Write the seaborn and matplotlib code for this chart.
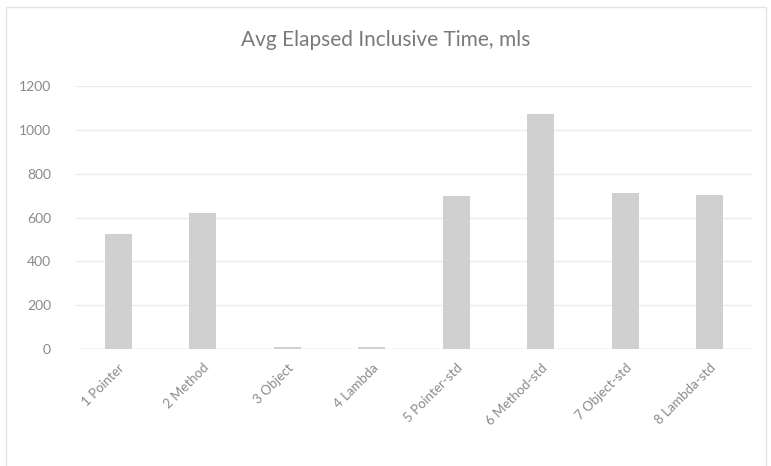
import pandas as pd
import seaborn as sns
import matplotlib.pyplot as plt
from matplotlib.patches import Rectangle

# values
labels = ['1 Pointer', '2 Method', '3 Object', '4 Lambda',
          '5 Pointer-std', '6 Method-std', '7 Object-std', '8 Lambda-std']
avg_time = [526, 622, 7, 7, 696, 1071, 714, 703]
y_ticks = [0, 200, 400, 600, 800, 1000, 1200]

df = pd.DataFrame({'test': labels, 'time': avg_time})

sns.set_theme(style="white")
plt.rcParams['font.family'] = ['Lato', 'DejaVu Sans']

text_grey = '#8a8a8a'

fig = plt.figure(figsize=(7.71, 4.66), dpi=100)
ax = fig.add_axes([76 / 771, 1 - 349 / 466, (752 - 76) / 771, (349 - 86) / 466])

sns.barplot(data=df, x='test', y='time', color='#d0d0d0', saturation=1,
            width=0.32, linewidth=0, ax=ax)

ax.set_ylim(0, 1200)
ax.set_yticks(y_ticks)
ax.set_yticklabels([str(t) for t in y_ticks], color=text_grey, fontsize=10)
ax.set_xticks(range(len(labels)))
ax.set_xticklabels(labels, rotation=45, ha='right', rotation_mode='anchor',
                   color=text_grey, fontsize=9.5)
ax.tick_params(axis='x', length=0, pad=9)
ax.tick_params(axis='y', length=0, pad=18)
ax.set_xlabel('')
ax.set_ylabel('')
ax.grid(axis='y', color='#ebebeb', linewidth=1)
ax.set_axisbelow(True)
for s in ax.spines.values():
    s.set_visible(False)
ax.axhline(0, color='#e3e3e3', linewidth=1, zorder=0.5)

fig.text(0.5, 1 - 40 / 466, 'Avg Elapsed Inclusive Time, mls', ha='center', va='center',
         fontsize=15, color='#7a7a7a')

# light chart-area frame
fig.patches.append(Rectangle((6 / 771, -0.05), 760 / 771, 1.05 - 7 / 466,
                             transform=fig.transFigure, fill=False,
                             edgecolor='#e3e3e3', linewidth=1))

plt.savefig('out.png', dpi=100)
